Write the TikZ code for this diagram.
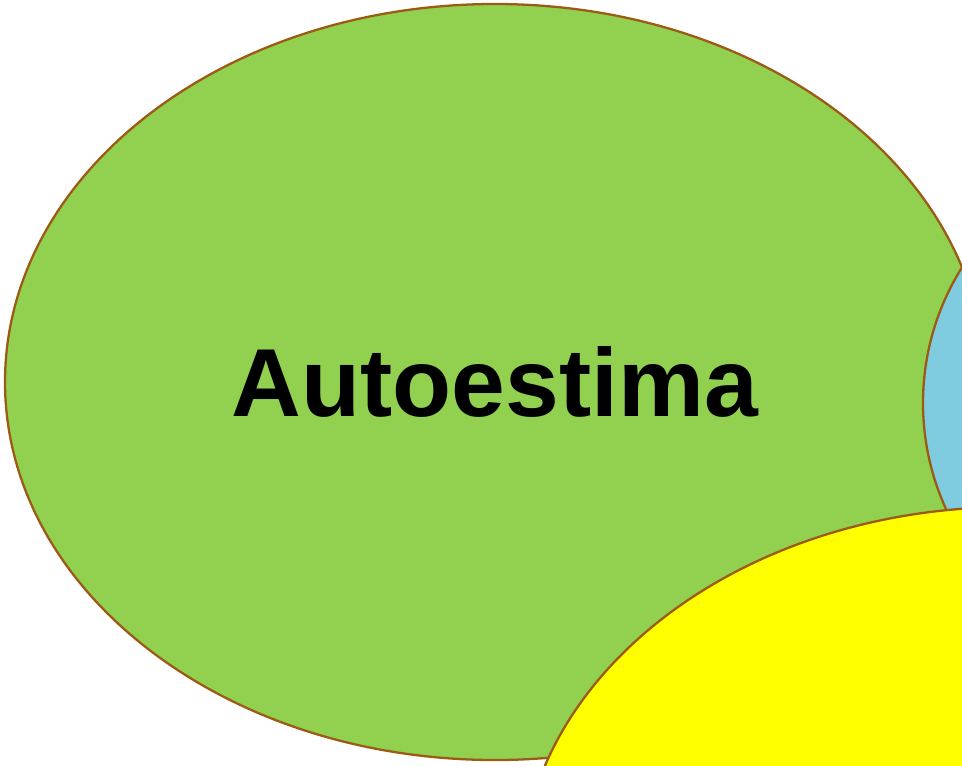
\documentclass[tikz,border=0pt]{standalone}
\usepackage{fontspec}
\setmainfont{Liberation Sans}
\usepackage{xcolor}
\definecolor{greenfill}{HTML}{92D050}
\definecolor{bluefill}{HTML}{7FCBE0}
\definecolor{yellowfill}{HTML}{FFFF00}
\definecolor{rimcolor}{HTML}{9C5B14}

\begin{document}
\begin{tikzpicture}[x=0.02cm, y=-0.02cm,
    bubble/.style={draw=rimcolor, line width=1.3pt}]

  % Frame
  \useasboundingbox (0, 0) rectangle (962, 765);
  \clip (0, 0) rectangle (962, 765);

  % Green ellipse
  \filldraw[bubble, fill=greenfill] (495, 382) ellipse [x radius=490, y radius=378];
  \node[font=\bfseries\fontsize{55}{60}\selectfont] (autoestima) at (495, 382) {Autoestima};

  % Blue circle (right)
  \filldraw[bubble, fill=bluefill] (1178, 403) circle [radius=255];

  % Yellow ellipse (bottom right)
  \filldraw[bubble, fill=yellowfill] (1010, 885) ellipse [x radius=490, y radius=378];

\end{tikzpicture}
\end{document}
